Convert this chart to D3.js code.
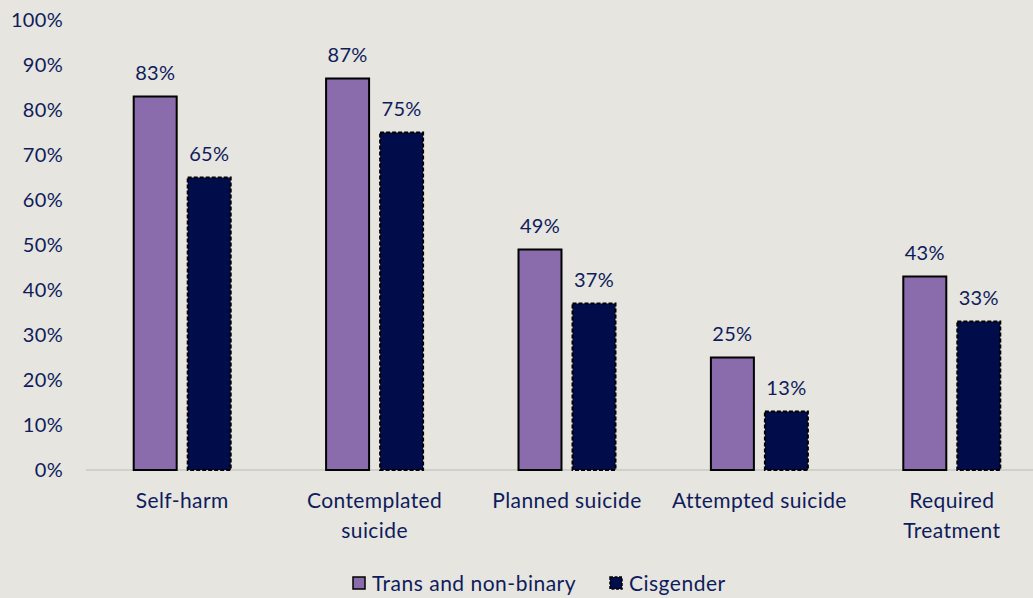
<!DOCTYPE html>
<html><head><meta charset="utf-8">
<script src="https://cdn.jsdelivr.net/npm/d3@7"></script>
<style>body{margin:0;background:#e6e5df;}svg{display:block;font-family:Lato,"Open Sans",sans-serif;}</style>
</head><body>
<svg id="c" width="1033" height="598"></svg>
<script>
const categories = [["Self-harm"],["Contemplated","suicide"],["Planned suicide"],["Attempted suicide"],["Required","Treatment"]];
const transValues = [83, 87, 49, 25, 43];
const cisValues = [65, 75, 37, 13, 33];
const seriesNames = ["Trans and non-binary", "Cisgender"];
const yTicks = [0,10,20,30,40,50,60,70,80,90,100];

const txt = "#0f1c5c", purple = "#8a6cac", navy = "#000d4a";
const svg = d3.select("#c");
svg.append("rect").attr("width",1033).attr("height",598).attr("fill","#e6e5df");
const y = d3.scaleLinear().domain([0,100]).range([470,20]);
const x = d3.scaleBand().domain(d3.range(categories.length)).range([86,1048]);
const sub = d3.scaleBand().domain([0,1]).range([0,97]).paddingInner(0.204);

svg.append("line").attr("x1",86).attr("x2",1033).attr("y1",y(0)).attr("y2",y(0)).attr("stroke","#c8c8c4").attr("stroke-width",1.5);

const ya = svg.append("g").attr("transform","translate(63,0)").call(d3.axisLeft(y).tickValues(yTicks).tickFormat(d=>d+"%").tickSize(0).tickPadding(0));
ya.select(".domain").remove();
ya.selectAll("text").attr("fill",txt).style("font-size","20px").style("letter-spacing","0.3px").style("font-family","Lato, sans-serif");

const series = [transValues, cisValues];
series.forEach((vals,s)=>{
  const g = svg.append("g");
  vals.forEach((v,i)=>{
    const bx = x(i) + x.bandwidth()/2 - 48.5 + sub(s);
    g.append("rect").attr("x",bx).attr("y",y(v)).attr("width",sub.bandwidth()).attr("height",y(0)-y(v))
      .attr("fill", s===0?purple:navy).attr("stroke","#000").attr("stroke-width",2)
      .attr("stroke-dasharray", s===1?"4,2":null);
    g.append("text").attr("x",bx+sub.bandwidth()/2).attr("y",y(v)-17).attr("text-anchor","middle")
      .attr("fill",txt).style("font-size","20px").style("letter-spacing","0.3px").text(v+"%");
  });
});

categories.forEach((lines,i)=>{
  const t = svg.append("text").attr("text-anchor","middle").attr("fill",txt).style("font-size","21px").style("letter-spacing","0.4px");
  lines.forEach((l,j)=>t.append("tspan").attr("x",x(i)+x.bandwidth()/2).attr("y",508+j*30).text(l));
});

const leg = [[353,purple,null,seriesNames[0]],[610,navy,"3,1.5",seriesNames[1]]];
leg.forEach(([lx,c,da,name])=>{
  svg.append("rect").attr("x",lx).attr("y",577).attr("width",12).attr("height",12).attr("fill",c).attr("stroke","#000").attr("stroke-width",1.5).attr("stroke-dasharray",da);
  svg.append("text").attr("x",lx+19).attr("y",591).attr("fill",txt).style("font-size","21px").style("letter-spacing","0.5px").text(name);
});
</script>
</body></html>
